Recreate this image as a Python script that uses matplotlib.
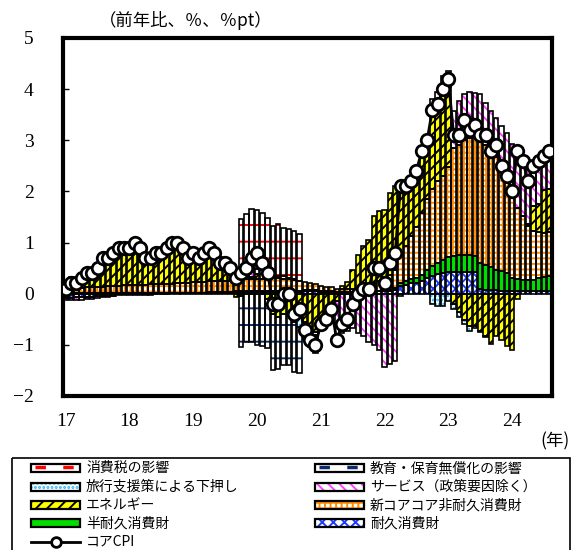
import numpy as np
import matplotlib
matplotlib.use('Agg')
import matplotlib.pyplot as plt
from matplotlib.patches import Rectangle

plt.rcParams['font.family'] = ['Noto Sans CJK JP', 'DejaVu Sans']
plt.rcParams['hatch.linewidth'] = 1.4

# monthly data, 2017/01 - 2024/08 (y/y %, contributions %pt)
years = ['17', '18', '19', '20', '21', '22', '23', '24']

core_cpi = [
    0.1, 0.2, 0.2, 0.3, 0.4, 0.4, 0.5, 0.7, 0.7, 0.8, 0.9, 0.9,
    0.9, 1.0, 0.9, 0.7, 0.7, 0.8, 0.8, 0.9, 1.0, 1.0, 0.9, 0.7,
    0.8, 0.7, 0.8, 0.9, 0.8, 0.6, 0.6, 0.5, 0.3, 0.4, 0.5, 0.7,
    0.8, 0.6, 0.4, -0.2, -0.2, 0.0, 0.0, -0.4, -0.3, -0.7, -0.9, -1.0,
    -0.6, -0.5, -0.3, -0.9, -0.6, -0.5, -0.2, 0.0, 0.1, 0.1, 0.5, 0.5,
    0.2, 0.6, 0.8, 2.1, 2.1, 2.2, 2.4, 2.8, 3.0, 3.6, 3.7, 4.0,
    4.2, 3.1, 3.1, 3.4, 3.2, 3.3, 3.1, 3.1, 2.8, 2.9, 2.5, 2.3,
    2.0, 2.8, 2.6, 2.2, 2.5, 2.6, 2.7, 2.8]

durable = [
    -0.08, -0.08, -0.07, -0.07, -0.06, -0.06, -0.05, -0.05, -0.04, -0.04, -0.03, -0.03,
    -0.03, -0.02, -0.02, -0.02, -0.02, -0.01, -0.01, -0.01, 0.0, 0.0, 0.0, 0.0,
    0.01, 0.01, 0.01, 0.02, 0.02, 0.02, 0.02, 0.02, 0.03, 0.04, 0.04, 0.04,
    0.04, 0.04, 0.04, 0.03, 0.03, 0.03, 0.04, 0.04, 0.04, 0.05, 0.05, 0.05,
    0.04, 0.04, 0.04, 0.03, 0.03, 0.03, 0.03, 0.03, 0.04, 0.05, 0.05, 0.05,
    0.05, 0.06, 0.08, 0.15, 0.18, 0.2, 0.2, 0.25, 0.3, 0.35, 0.38, 0.4,
    0.42, 0.42, 0.43, 0.43, 0.43, 0.42, 0.1, 0.08, 0.08, 0.07, 0.06, 0.06,
    0.05, 0.05, 0.05, 0.05, 0.05, 0.05, 0.05, 0.05]

semi_durable = [
    0.0, 0.0, 0.01, 0.01, 0.01, 0.01, 0.01, 0.01, 0.01, 0.01, 0.01, 0.01,
    0.01, 0.01, 0.01, 0.01, 0.01, 0.01, 0.01, 0.01, 0.01, 0.01, 0.01, 0.01,
    0.01, 0.01, 0.01, 0.01, 0.01, 0.01, 0.01, 0.01, 0.02, 0.02, 0.02, 0.02,
    0.02, 0.02, 0.02, 0.02, 0.02, 0.02, 0.02, 0.02, 0.02, 0.02, 0.02, 0.02,
    0.01, 0.01, 0.01, 0.01, 0.01, 0.01, 0.01, 0.01, 0.01, 0.01, 0.01, 0.01,
    0.01, 0.02, 0.03, 0.05, 0.06, 0.08, 0.1, 0.12, 0.16, 0.2, 0.22, 0.25,
    0.3, 0.32, 0.32, 0.32, 0.32, 0.32, 0.5, 0.48, 0.45, 0.4, 0.38, 0.35,
    0.25, 0.23, 0.22, 0.22, 0.22, 0.25, 0.28, 0.3]

nondurable = [
    0.08, 0.08, 0.1, 0.1, 0.12, 0.12, 0.12, 0.13, 0.14, 0.15, 0.15, 0.16,
    0.16, 0.17, 0.17, 0.17, 0.18, 0.18, 0.18, 0.18, 0.18, 0.19, 0.19, 0.2,
    0.2, 0.2, 0.2, 0.21, 0.22, 0.22, 0.22, 0.22, 0.22, 0.22, 0.22, 0.22,
    0.23, 0.23, 0.24, 0.25, 0.25, 0.24, 0.22, 0.2, 0.18, 0.16, 0.14, 0.12,
    0.1, 0.08, 0.08, 0.06, 0.06, 0.06, 0.06, 0.08, 0.1, 0.12, 0.15, 0.18,
    0.22, 0.28, 0.35, 0.6, 0.7, 0.85, 1.0, 1.2, 1.4, 1.5, 1.6, 1.65,
    1.75, 2.1, 2.15, 2.25, 2.3, 2.35, 2.4, 2.35, 2.3, 2.2, 2.05, 1.85,
    1.6, 1.4, 1.25, 1.05, 0.95, 0.9, 0.85, 0.85]

energy = [
    0.15, 0.25, 0.2, 0.3, 0.37, 0.37, 0.45, 0.62, 0.6, 0.68, 0.76, 0.76,
    0.74, 0.81, 0.71, 0.52, 0.51, 0.59, 0.59, 0.67, 0.76, 0.75, 0.65, 0.44,
    0.53, 0.43, 0.5, 0.56, 0.45, 0.25, 0.25, 0.15, -0.06, -0.05, 0.0, 0.05,
    0.1, 0.0, -0.1, -0.4, -0.45, -0.4, -0.35, -0.4, -0.45, -0.55, -0.65, -0.75,
    -0.6, -0.5, -0.25, -0.15, 0.06, 0.13, 0.37, 0.64, 0.79, 0.88, 1.3, 1.37,
    1.36, 1.61, 1.65, 1.35, 1.16, 1.05, 1.05, 1.18, 1.04, 1.55, 1.55, 1.7,
    1.58, -0.2, -0.36, -0.51, -0.64, -0.63, -0.72, -0.82, -0.99, -0.83, -0.9, -1.03,
    -1.1, -0.1, 0.0, 0.05, 0.5, 0.55, 0.85, 0.85]

services = [
    -0.05, -0.05, -0.05, -0.05, -0.04, -0.04, -0.03, -0.02, -0.02, -0.01, 0.0, 0.0,
    0.02, 0.03, 0.03, 0.02, 0.02, 0.03, 0.03, 0.05, 0.05, 0.05, 0.05, 0.05,
    0.05, 0.05, 0.08, 0.1, 0.1, 0.1, 0.1, 0.1, 0.1, 0.1, 0.1, 0.1,
    0.1, 0.1, 0.08, 0.05, 0.05, 0.05, 0.03, 0.03, 0.0, -0.05, -0.05, -0.05,
    -0.05, -0.05, -0.08, -0.85, -0.76, -0.73, -0.67, -0.76, -0.83, -0.95, -1.01, -1.1,
    -1.44, -1.37, -1.31, -0.05, 0.0, 0.02, 0.05, 0.05, 0.1, 0.2, 0.2, 0.25,
    0.3, 0.73, 0.86, 0.9, 0.89, 0.83, 0.9, 0.82, 0.74, 0.76, 0.78, 0.88,
    1.02, 1.11, 1.08, 1.09, 0.78, 0.85, 0.63, 0.74]

travel = [
    0, 0, 0, 0, 0, 0, 0, 0, 0, 0, 0, 0,
    0, 0, 0, 0, 0, 0, 0, 0, 0, 0, 0, 0,
    0, 0, 0, 0, 0, 0, 0, 0, 0, 0, 0, 0,
    0, 0, 0, 0, 0, 0, 0, -0.15, -0.2, -0.3, -0.35, -0.35,
    0, 0, 0, 0, 0, 0, 0, 0, 0, 0, 0, 0,
    0, 0, 0, 0, 0, 0, 0, 0, 0, -0.2, -0.25, -0.25,
    -0.15, -0.1, -0.1, -0.08, -0.08, -0.05, -0.03, -0.03, 0, 0, 0, 0,
    0, 0, 0, 0, 0, 0, 0, 0]

education = [
    0, 0, 0, 0, 0, 0, 0, 0, 0, 0, 0, 0,
    0, 0, 0, 0, 0, 0, 0, 0, 0, 0, 0, 0,
    0, 0, 0, 0, 0, 0, 0, 0, 0, -1.0, -0.95, -0.95,
    -1.0, -1.02, -0.97, -1.1, -1.03, -1.0, -1.05, -0.99, -0.91, 0, 0, 0,
    0, 0, 0, 0, 0, 0, 0, 0, 0, 0, 0, 0,
    0, 0, 0, 0, 0, 0, 0, 0, 0, 0, 0, 0,
    0, 0, 0, 0, 0, 0, 0, 0, 0, 0, 0, 0,
    0, 0, 0, 0, 0, 0, 0, 0]

tax = [
    0, 0, 0, 0, 0, 0, 0, 0, 0, 0, 0, 0,
    0, 0, 0, 0, 0, 0, 0, 0, 0, 0, 0, 0,
    0, 0, 0, 0, 0, 0, 0, 0, 0, 1.08, 1.18, 1.22,
    1.14, 1.19, 1.1, 0.98, 1.01, 0.95, 0.95, 0.94, 0.93, 0, 0, 0,
    0, 0, 0, 0, 0, 0, 0, 0, 0, 0, 0, 0,
    0, 0, 0, 0, 0, 0, 0, 0, 0, 0, 0, 0,
    0, 0, 0, 0, 0, 0, 0, 0, 0, 0, 0, 0,
    0, 0, 0, 0, 0, 0, 0, 0]

# name, values, face colour, hatch, hatch colour  (stacked from zero outwards)
series = [
    ('耐久消費財', durable, 'white', 'xxx', '#1a3cff'),
    ('半耐久消費財', semi_durable, '#00dd00', '', '#00dd00'),
    ('新コアコア非耐久消費財', nondurable, 'white', '+++', '#ff8c00'),
    ('エネルギー', energy, '#ffff00', '///', 'black'),
    ('サービス（政策要因除く）', services, 'white', '\\\\\\', '#ff40ff'),
    ('旅行支援策による下押し', travel, 'white', '....', '#1eb4ff'),
    ('教育・保育無償化の影響', education, 'white', '-', '#0a2a6a'),
    ('消費税の影響', tax, 'white', '-', '#ff0000'),
]
style = {s[0]: s[2:] for s in series}

n = len(core_cpi)
x = np.arange(n) + 0.5
W = 0.84

fig = plt.figure(figsize=(5.72, 5.5), dpi=100)
ax = fig.add_axes([63 / 572, 1 - 396 / 550, (552 - 63) / 572, (396 - 38) / 550])

pos = np.zeros(n)
neg = np.zeros(n)
for name, vals, fc, hatch, hc in series:
    v = np.array(vals, dtype=float)
    bottom = np.where(v >= 0, pos, neg)
    m = v != 0
    ax.bar(x[m], v[m], bottom=bottom[m], width=W, color=fc, hatch=hatch,
           edgecolor=hc, linewidth=0, zorder=2)
    ax.bar(x[m], v[m], bottom=bottom[m], width=W, fill=False,
           edgecolor='black', linewidth=1.2, zorder=3)
    pos += np.clip(v, 0, None)
    neg += np.clip(v, None, 0)

ax.plot(x, core_cpi, color='black', lw=2, marker='o', ms=9, mfc='white',
        mec='black', mew=2, zorder=5)

ax.set_xlim(0, n)
ax.set_ylim(-2, 5)
for s in ax.spines.values():
    s.set_linewidth(3)
ax.set_yticks(range(-2, 6))
ax.set_yticklabels([str(v).replace('-', '\u2212') for v in range(-2, 6)],
                   fontfamily='Liberation Serif', fontsize=14)
ax.set_xticks([0.5 + 12 * i for i in range(len(years))])
ax.set_xticklabels(years, fontfamily='Liberation Serif', fontsize=14)
ax.tick_params(axis='y', direction='in', length=4, width=1, pad=21)
ax.tick_params(axis='x', length=0, pad=12)

# overlay in pixel coordinates for texts and legend
ov = fig.add_axes([0, 0, 1, 1])
ov.set_xlim(0, 572)
ov.set_ylim(550, 0)
ov.axis('off')

ov.text(99, 20, '（前年比、％、％pt）', fontsize=12.5, va='center', ha='left')
ov.text(570, 441, '(年)', fontsize=12.5, va='center', ha='right')

ov.add_patch(Rectangle((12, 458), 558, 100, fill=False, edgecolor='black', lw=1.2))

legend_rows = [
    ('消費税の影響', 0, 0), ('教育・保育無償化の影響', 1, 0),
    ('旅行支援策による下押し', 0, 1), ('サービス（政策要因除く）', 1, 1),
    ('エネルギー', 0, 2), ('新コアコア非耐久消費財', 1, 2),
    ('半耐久消費財', 0, 3), ('耐久消費財', 1, 3),
]
row_y = [468, 487, 505, 523, 542]
col_x = [31, 315]
hw, hh = 49, 8
for name, c, r in legend_rows:
    fc, hatch, hc = style[name]
    x0, y0 = col_x[c], row_y[r] - hh / 2
    if hatch == '-':
        # sparse dash marks as in the bars
        ov.add_patch(Rectangle((x0, y0), hw, hh, facecolor='white', lw=0))
        ov.plot([x0 + 4, x0 + hw - 4], [y0 + 2.5, y0 + 2.5], color=hc, lw=2.5,
                dashes=(3, 5))
    else:
        ov.add_patch(Rectangle((x0, y0), hw, hh, facecolor=fc, hatch=hatch,
                               edgecolor=hc, lw=0))
    ov.add_patch(Rectangle((x0, y0), hw, hh, fill=False, edgecolor='black', lw=1.6))
    ov.text(x0 + hw + 6, row_y[r], name, fontsize=10, va='center', ha='left')

ov.plot([col_x[0], col_x[0] + hw], [row_y[4], row_y[4]], color='black', lw=2)
ov.plot([col_x[0] + hw / 2], [row_y[4]], marker='o', ms=7, mfc='white',
        mec='black', mew=2)
ov.text(col_x[0] + hw + 6, row_y[4], 'コアCPI', fontsize=10, va='center', ha='left')

fig.savefig('out.png', dpi=100)
